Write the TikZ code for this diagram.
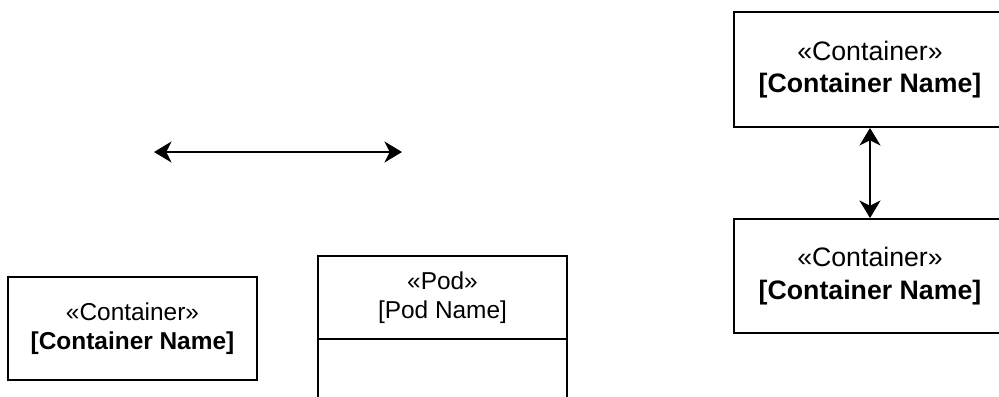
\documentclass[tikz,border=0pt]{standalone}
\usepackage{fontspec}
\setmainfont{Liberation Sans}
\usetikzlibrary{arrows.meta, positioning}

\tikzset{
	box/.style={draw, line width=1.1pt, align=center, inner sep=0pt},
	small box/.style={box, font={\fontsize{13.9}{16.6}\selectfont}},
	big box/.style={box, font={\fontsize{15.2}{18.6}\selectfont}},
	link/.style={line width=1.1pt, {Stealth[length=10pt, width=12pt, inset=3pt]}-{Stealth[length=10pt, width=12pt, inset=3pt]}},
}

\begin{document}
\begin{tikzpicture}[x=0.02cm, y=-0.02cm]
	\useasboundingbox (0,0) rectangle (999,396);
	\clip (0,0) rectangle (999,396);
	% free arrow
	\coordinate (arrL) at (154,152);
	\coordinate (arrR) at (402,152);
	\draw[link] (arrL) -- (arrR);
	% container on its own
	\node[small box, minimum width=4.98cm, minimum height=2.06cm] (cont) at (132.5,328.5) {«Container»\\\textbf{[Container Name]}};
	% pod with header and body
	\node[small box, minimum width=4.98cm, minimum height=1.66cm] (podHead) at (442.5,297.5) {«Pod»\\{[Pod Name]}};
	\node[box, minimum width=4.98cm, minimum height=1.8cm, below=-1.1pt of podHead] (podBody) {};
	% two linked containers
	\node[big box, minimum width=5.44cm, minimum height=2.3cm] (contTop) at (870,69.5) {«Container»\\\textbf{[Container Name]}};
	\node[big box, minimum width=5.44cm, minimum height=2.28cm] (contBot) at (870,276) {«Container»\\\textbf{[Container Name]}};
	\draw[link] (contTop.south) -- (contBot.north);
\end{tikzpicture}
\end{document}
